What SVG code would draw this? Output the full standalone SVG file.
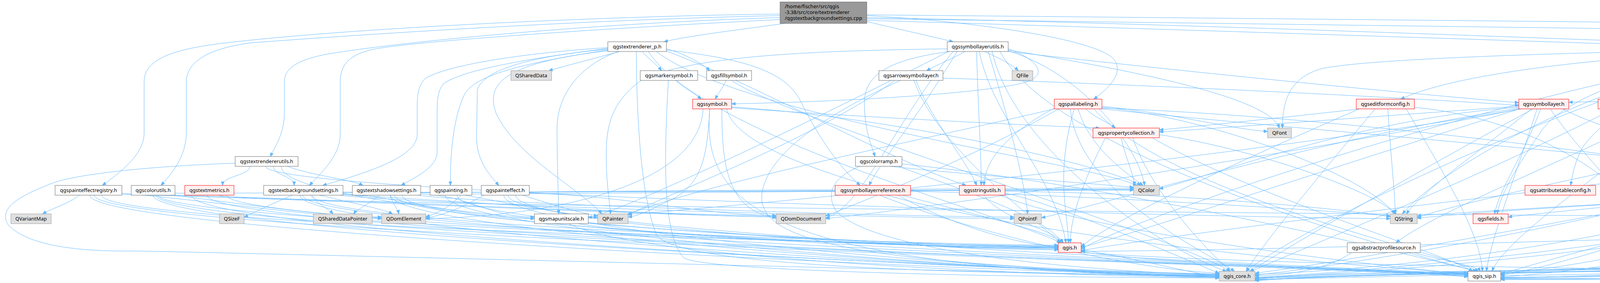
<svg xmlns="http://www.w3.org/2000/svg" width="7191" height="725" viewBox="0 0 7191 725">
<style>
.e path{fill:none;stroke:#63b8ff;stroke-width:1;marker-end:url(#a)}
.w{fill:#ffffff;stroke:#666666}
.r{fill:#fff0f0;stroke:#ff0000}
.g{fill:#e0e0e0;stroke:#999999}
.rt{fill:#999999;stroke:#666666}
text{font-family:"Noto Sans","DejaVu Sans",sans-serif;font-size:13px;fill:#000000}
.c{text-anchor:middle}
</style>
<defs>
<marker id="a" viewBox="0 0 10 8" refX="10" refY="4" markerWidth="10" markerHeight="8" markerUnits="userSpaceOnUse" orient="auto"><path d="M0,0L10,4L0,8z" fill="#63b8ff" stroke="#63b8ff"/></marker>
</defs>
<rect width="7191" height="725" fill="#ffffff"/>
<g id="edges" class="e">
<path d="M1997,36 C1600,40 900,70 560,112 C420,130 369,160 369,210 L369,340 C369,395 310,440 262,475"/>
<path d="M1997,40 C1500,50 900,90 640,110 C530,125 477,160 477,210 L477,340 C477,400 440,445 412,475"/>
<path d="M1997,45 C1500,60 1000,110 830,140 C760,155 728,175 728,210 L728,290 C728,340 705,375 692,401"/>
<path d="M1997,50 C1500,75 1000,110 940,130 C890,145 871,170 871,210 L871,345 C871,400 820,445 792,475"/>
<path d="M2010,60 C1900,75 1760,92 1700,107"/>
<path d="M2219,55 C2300,75 2380,92 2440,107"/>
<path d="M2219,40 C2500,55 2800,100 2850,150 C2880,185 2840,225 2800,254"/>
<path d="M2219,45 C3000,60 4000,100 4512,118"/>
<path d="M2219,38 C3500,50 5500,70 6000,79 C6300,85 6420,95 6460,110 C6510,135 6517,160 6517,200 L6517,300 C6517,340 6530,370 6543,401"/>
<path d="M2219,48 C3500,65 5000,85 5400,90 C5800,110 6200,160 6300,190 C6400,220 6420,250 6410,280 C6390,340 6300,420 6262,548"/>
<path d="M2219,52 C3500,90 5600,160 6150,187"/>
<path d="M1586,132 C1520,150 1450,168 1405,181"/>
<path d="M1644,132 C1660,150 1680,165 1694,181"/>
<path d="M1706,125 C1760,140 1800,165 1817,181"/>
<path d="M1706,128 C1900,150 2010,180 2050,260 C2090,340 2140,420 2202,475"/>
<path d="M1556,126 C1400,140 1240,170 1222,230 L1220,350 C1220,410 1250,445 1277,475"/>
<path d="M1556,122 C1350,135 1150,165 1090,200 C1068,220 1068,250 1068,280 L1068,345 C1068,400 950,440 826,475"/>
<path d="M1556,124 C1350,150 1180,180 1135,215 C1119,235 1119,260 1119,300 L1119,390 C1119,430 1060,455 1027,475"/>
<path d="M1556,128 C1350,160 1220,190 1190,240 C1160,300 1152,400 1153,475"/>
<path d="M1583,132 C1500,160 1426,230 1426,330 C1426,430 1430,500 1430,548"/>
<path d="M1556,130 C1300,160 1240,210 1270,290 C1320,400 1480,480 1541,548"/>
<path d="M1629,132 C1630,300 1640,500 1680,600 C1720,690 2600,703 3121,705"/>
<path d="M1706,131 C1900,200 2300,420 2473,475"/>
<path d="M1680,132 C1900,300 2800,420 2910,475"/>
<path d="M1660,132 C1800,350 2600,560 2715,622"/>
<path d="M2581,125 C2650,150 2680,185 2640,205 C2580,235 2200,260 1873,266"/>
<path d="M2425,125 C2100,130 1800,140 1650,200 C1560,260 1552,330 1552,400 C1552,470 1560,510 1563,548"/>
<path d="M2470,132 C2440,150 2400,165 2372,181"/>
<path d="M2520,132 C2560,150 2590,165 2607,181"/>
<path d="M2430,132 C2300,150 2215,180 2213,260 C2212,330 2230,370 2240,401"/>
<path d="M2507,132 C2540,300 2700,450 2729,622"/>
<path d="M2581,130 C2800,200 2920,400 2930,475"/>
<path d="M2581,128 C2900,180 3250,250 3275,328"/>
<path d="M2440,132 C2300,300 2200,540 2114,558"/>
<path d="M2540,132 C2600,400 3000,650 3140,695"/>
<path d="M2560,132 C2700,400 3600,650 3780,695"/>
<path d="M2428,132 C2100,300 1600,540 1506,558"/>
<path d="M2530,132 C2580,300 2620,450 2631,548"/>
<path d="M2581,132 C3000,180 3600,240 3888,263"/>
<path d="M2450,132 C2350,300 2250,420 2225,475"/>
<path d="M2500,132 C2505,300 2512,400 2512,475"/>
<path d="M2780,279 C2800,300 2840,315 2855,328"/>
<path d="M2699,277 C2600,330 2520,400 2519,475"/>
<path d="M2760,279 C2790,380 2880,440 2926,475"/>
<path d="M2750,279 C2700,450 2735,550 2735,622"/>
<path d="M2740,279 C2760,500 3100,650 3160,695"/>
<path d="M2821,275 C3100,300 3500,450 3570,548"/>
<path d="M2800,279 C3000,500 3700,650 3785,695"/>
<path d="M2821,272 C3000,290 3150,330 3245,337"/>
<path d="M2821,279 C3500,350 5200,480 5275,548"/>
<path d="M2821,277 C3500,300 4400,430 4667,482"/>
<path d="M2699,279 C2400,350 1800,470 1606,550"/>
<path d="M2710,279 C2500,400 2200,520 2114,553"/>
<path d="M2870,353 C2880,400 2900,440 2905,475"/>
<path d="M2900,353 C2950,500 3100,650 3150,695"/>
<path d="M2950,353 C3200,500 3700,650 3770,695"/>
<path d="M2830,353 C2780,450 2740,550 2740,622"/>
<path d="M2968,345 C3200,380 3500,480 3575,548"/>
<path d="M1873,276 C2200,300 2650,322 2815,328"/>
<path d="M3888,272 C3500,300 3100,330 2968,338"/>
<path d="M3480,279 C3300,300 3050,325 2968,333"/>
<path d="M2519,500 C2560,560 2700,590 2722,622"/>
<path d="M2573,495 C2700,520 3000,650 3121,700"/>
<path d="M2573,490 C3000,495 3400,530 3559,555"/>
<path d="M2560,500 C2800,600 3600,690 3758,702"/>
<path d="M2768,640 C2900,660 3050,700 3121,709"/>
<path d="M2768,645 C3000,680 3600,690 3758,709"/>
<path d="M2768,647 C3500,700 6000,705 6464,704"/>
<path d="M3520,279 C3420,400 3250,600 3190,695"/>
<path d="M3480,279 C3200,400 2850,560 2768,632"/>
<path d="M3553,279 C3560,400 3570,480 3572,548"/>
<path d="M3600,279 C3700,450 3790,600 3795,695"/>
<path d="M3621,275 C3900,300 4150,450 4180,548"/>
<path d="M3460,647 C3400,690 3300,705 3213,707"/>
<path d="M3620,647 C3700,670 3780,680 3790,695"/>
<path d="M3944,279 C3900,400 3840,480 3826,548"/>
<path d="M3969,279 C4050,400 4150,480 4174,548"/>
<path d="M4000,279 C4200,380 4650,450 4690,548"/>
<path d="M3925,279 C3700,400 3350,600 3200,695"/>
<path d="M3935,279 C3880,450 3820,600 3805,695"/>
<path d="M3888,275 C3500,300 3100,450 2968,484"/>
<path d="M3920,279 C3800,380 3650,480 3600,548"/>
<path d="M3890,279 C3500,400 2900,600 2768,634"/>
<path d="M3890,277 C3400,350 2800,530 2666,558"/>
<path d="M3890,279 C3300,400 2400,530 2114,560"/>
<path d="M3895,279 C3200,400 2000,520 1608,549"/>
<path d="M2414,200 C3000,220 3600,250 3888,270"/>
<path d="M2290,206 C2100,350 1700,500 1606,552"/>
<path d="M2345,206 C2380,300 2480,420 2500,475"/>
<path d="M6150,200 C5500,230 4500,250 4016,262"/>
<path d="M4237,275 C4700,290 5100,320 5366,333"/>
<path d="M4130,279 C3800,450 3300,650 3200,697"/>
<path d="M4512,130 C4300,180 4100,300 4050,380 C4030,420 4025,450 4021,475"/>
<path d="M4515,132 C4300,180 4200,220 4178,254"/>
<path d="M4512,125 C4000,135 3500,150 3383,176 C3300,200 3283,260 3283,328"/>
<path d="M4560,132 C4530,150 4500,168 4477,181"/>
<path d="M4575,132 C4590,220 4610,280 4619,328"/>
<path d="M4552,132 C4490,180 4460,260 4470,320 C4480,360 4520,385 4550,401"/>
<path d="M4540,132 C4420,160 4380,190 4390,230 C4450,400 4600,480 4671,548"/>
<path d="M4512,128 C4000,150 3700,200 3586,254"/>
<path d="M4512,130 C4200,170 4000,260 3950,330 C3880,430 3840,500 3833,548"/>
<path d="M4512,132 C4100,200 3700,420 3590,548"/>
<path d="M4525,132 C4350,160 4280,200 4270,240 C4240,350 4230,450 4204,548"/>
<path d="M4512,132 C4000,250 3300,600 3190,695"/>
<path d="M4520,132 C4300,300 3850,600 3820,695"/>
<path d="M4512,130 C3800,250 2900,560 2768,638"/>
<path d="M4530,132 C4300,300 3700,520 3574,622"/>
<path d="M4635,128 C5500,160 6050,300 5985,475"/>
<path d="M4635,130 C5000,150 5200,180 5367,192"/>
<path d="M4635,132 C5200,160 5600,200 5677,254"/>
<path d="M4635,127 C5400,140 5880,200 5888,330 C5890,420 5880,500 5878,548"/>
<path d="M4600,132 C4700,200 4800,255 4905,266"/>
<path d="M4620,132 C4700,200 4790,300 4815,328"/>
<path d="M4635,132 C4800,170 5000,260 5068,328"/>
<path d="M4600,132 C4800,300 5100,450 5183,548"/>
<path d="M4620,132 C4900,300 5200,450 5275,548"/>
<path d="M4628,353 C4629,370 4630,385 4630,401"/>
<path d="M4850,353 C4800,370 4750,390 4715,410"/>
<path d="M4645,426 C4660,450 4690,460 4697,475"/>
<path d="M4625,426 C4500,550 3800,680 3213,703"/>
<path d="M4600,426 C4400,560 4000,680 3842,705"/>
<path d="M4715,420 C4900,440 5170,500 5200,548"/>
<path d="M4546,415 C4400,450 4300,540 4220,556"/>
<path d="M4546,420 C4000,480 3000,600 2768,642"/>
<path d="M4713,500 C4710,520 4703,535 4701,548"/>
<path d="M4700,500 C4500,600 3600,690 3213,711"/>
<path d="M4680,500 C4400,620 4000,690 3842,700"/>
<path d="M4667,495 C4300,510 3800,540 3628,553"/>
<path d="M4667,490 C4400,500 4000,540 3861,556"/>
<path d="M5446,206 C5444,250 5442,290 5442,328"/>
<path d="M5420,206 C5400,240 5395,280 5427,328"/>
<path d="M5492,206 C5560,225 5620,240 5651,254"/>
<path d="M5390,206 C5200,300 4900,400 4770,478"/>
<path d="M5470,206 C5500,400 4500,650 3213,712"/>
<path d="M5490,206 C5550,400 4500,660 3842,710"/>
<path d="M5380,206 C5200,350 4900,520 4721,556"/>
<path d="M5367,200 C5250,220 5120,240 5081,253"/>
<path d="M5068,279 C5200,300 5300,320 5366,340"/>
<path d="M4950,279 C4700,450 3700,650 3213,705"/>
<path d="M4910,279 C4400,380 3800,500 3628,557"/>
<path d="M5053,353 C4800,420 3600,650 3213,700"/>
<path d="M5080,353 C4800,450 4000,650 3842,703"/>
<path d="M5380,353 C5200,380 4900,430 4770,485"/>
<path d="M5400,353 C5350,430 5260,500 5228,548"/>
<path d="M5440,353 C5430,450 5380,530 5349,555"/>
<path d="M5444,353 C5460,500 5400,640 5000,675 C4500,690 3400,690 3213,714"/>
<path d="M5430,353 C5450,520 5300,650 4800,680 C4300,700 3900,706 3842,706"/>
<path d="M5366,345 C5000,400 4800,520 4721,550"/>
<path d="M5656,279 C5600,300 5530,315 5494,328"/>
<path d="M5697,279 C5680,400 5600,560 5400,630 C5000,690 3400,690 3213,716"/>
<path d="M5706,279 C5730,330 5725,500 5650,600 C5500,690 4200,705 3842,711"/>
<path d="M5990,500 C6010,560 6030,615 6077,628"/>
<path d="M6018,495 C6080,520 6110,580 6111,622"/>
<path d="M5930,500 C5800,650 4000,690 3213,713"/>
<path d="M6018,498 C6200,560 6420,640 6486,695"/>
<path d="M5846,573 C5700,640 4500,690 3213,716"/>
<path d="M5864,573 C5700,650 4400,700 3842,712"/>
<path d="M5917,573 C6100,620 6350,690 6464,708"/>
<path d="M6230,206 C6240,225 6260,240 6270,254"/>
<path d="M6245,206 C6280,225 6320,240 6342,254"/>
<path d="M6214,206 C6190,260 6180,300 6178,360 C6175,450 6100,520 5900,600 C5500,680 3600,690 3213,718"/>
<path d="M6220,206 C6210,300 6195,550 6165,640 C6100,690 4500,712 3842,716"/>
<path d="M6520,426 C6490,445 6440,460 6417,475"/>
<path d="M6591,426 C6630,440 6670,460 6690,475"/>
<path d="M6613,420 C6700,440 6780,470 6830,480"/>
<path d="M6613,418 C6750,440 6900,470 6955,480"/>
<path d="M6613,415 C6800,430 7000,465 7046,478"/>
<path d="M6613,413 C6900,420 7100,440 7150,480 C7200,530 7195,600 7100,640 C6950,690 6700,700 6539,705"/>
<path d="M6550,426 C6560,520 6530,620 6509,695"/>
<path d="M6543,426 C6450,550 6200,650 5800,670 C5000,690 3600,690 3213,718"/>
<path d="M6524,426 C6300,600 5000,700 3842,713"/>
<path d="M6491,420 C5900,430 5500,480 5349,552"/>
<path d="M6491,423 C5500,450 4000,520 3628,559"/>
<path d="M6375,500 C6300,600 6100,660 5800,680 C5000,690 3600,690 3213,719"/>
<path d="M6381,500 C6385,600 6300,660 6000,680 C5000,710 4200,714 3842,714"/>
<path d="M6230,573 C6200,590 6170,615 6149,628"/>
<path d="M6251,573 C6230,640 6100,670 5800,685 C5000,690 3600,690 3213,719"/>
<path d="M6260,573 C6280,640 6200,690 5900,700 C5000,715 4200,716 3842,716"/>
<path d="M6197,565 C5000,580 3500,640 2768,644"/>
<path d="M2252,500 C2500,600 2900,690 3121,700"/>
<path d="M2270,500 C2700,620 3500,685 3758,700"/>
<path d="M2331,490 C2800,500 3400,540 3559,553"/>
<path d="M2300,500 C2400,560 2600,630 2709,631"/>
<path d="M2202,426 C2140,450 2110,490 2140,540 C2250,660 2900,700 3121,704"/>
<path d="M2278,426 C2500,450 2800,470 2902,480"/>
<path d="M2300,426 C2500,500 2680,560 2720,622"/>
<path d="M2309,420 C2900,480 3600,650 3780,695"/>
<path d="M2305,206 C2100,300 1960,400 1950,500 C1945,600 2100,680 3121,702"/>
<path d="M2340,206 C2400,380 2650,560 2715,622"/>
<path d="M1456,573 C1600,650 2400,700 3121,712"/>
<path d="M1480,573 C1700,610 2409,635 2709,635"/>
<path d="M1730,206 C1750,225 1780,240 1795,254"/>
<path d="M1711,206 C1700,400 1695,600 1750,660 C1800,700 2800,712 3121,712"/>
<path d="M1859,206 C1850,225 1838,240 1831,254"/>
<path d="M1873,206 C2000,300 3000,600 3149,695"/>
<path d="M1848,279 C1848,420 1860,540 1987,558"/>
<path d="M1817,279 C1800,500 1900,690 3121,710"/>
<path d="M1873,274 C2300,300 2850,430 2920,475"/>
<path d="M1860,279 C1900,450 2650,560 2722,622"/>
<path d="M1817,279 C1810,400 1800,480 1700,520 C1660,540 1640,552 1608,556"/>
<path d="M1800,279 C1790,480 1400,555 1090,560"/>
<path d="M640,426 C640,450 570,450 570,475"/>
<path d="M700,426 C700,450 753,450 753,475"/>
<path d="M735,426 C800,450 900,460 929,475"/>
<path d="M602,418 C400,425 180,445 120,475 C30,510 0,540 20,575 C70,630 200,645 350,643 C700,650 2500,695 3121,710"/>
<path d="M680,426 C680,500 3259,560 3559,560"/>
<path d="M720,426 C720,560 2409,633 2709,633"/>
<path d="M203,500 C180,520 130,535 109,548"/>
<path d="M230,500 C230,600 2821,707 3121,707"/>
<path d="M241,500 C241,600 3458,685 3758,706"/>
<path d="M312,495 C500,510 800,555 977,560"/>
<path d="M312,498 C800,510 1700,552 1987,556"/>
<path d="M260,500 C260,580 2409,630 2709,630"/>
<path d="M448,495 C1000,494 2602,487 2902,487"/>
<path d="M445,500 C600,520 850,556 977,556"/>
<path d="M445,500 C1000,515 1700,552 1987,552"/>
<path d="M392,500 C392,600 2821,702 3121,702"/>
<path d="M400,500 C400,600 3458,685 3758,703"/>
<path d="M405,500 C405,567 2409,634 2709,634"/>
<path d="M490,500 C490,600 2821,704 3121,704"/>
<path d="M530,500 C530,600 3458,685 3758,709"/>
<path d="M560,500 C560,530 4958,560 5258,560"/>
<path d="M580,500 C580,570 2409,636 2709,636"/>
<path d="M749,500 C700,520 660,540 625,556"/>
<path d="M795,500 C810,520 840,535 853,548"/>
<path d="M818,500 C900,520 980,535 1005,548"/>
<path d="M768,500 C768,600 2821,706 3121,706"/>
<path d="M775,500 C775,600 3458,685 3758,706"/>
<path d="M878,492 C1200,495 2600,485 2902,485"/>
<path d="M878,497 C1000,500 1200,560 1368,560"/>
<path d="M878,499 C1100,510 1700,555 1987,555"/>
<path d="M870,500 C1000,520 2300,560 2596,560"/>
<path d="M800,500 C800,580 2409,628 2709,628"/>
<path d="M971,500 C950,520 915,535 905,548"/>
<path d="M998,500 C1005,520 1018,535 1021,548"/>
<path d="M1000,500 C1000,600 2821,708 3121,708"/>
<path d="M1077,494 C1500,490 2600,482 2902,482"/>
<path d="M1077,497 C1200,500 1250,556 1368,556"/>
<path d="M1070,500 C1200,520 2300,556 2596,556"/>
<path d="M1010,500 C1010,600 3458,685 3758,704"/>
<path d="M1030,500 C1030,580 2409,638 2709,638"/>
<path d="M1180,500 C1150,530 1120,548 1090,555"/>
<path d="M1190,500 C1300,520 1450,550 1530,557"/>
<path d="M1140,500 C1140,600 2821,710 3121,710"/>
<path d="M1208,497 C1600,495 2600,486 2902,486"/>
<path d="M1170,500 C1170,580 2409,632 2709,632"/>
<path d="M1338,500 C1400,520 1480,545 1530,553"/>
<path d="M1240,500 C1200,520 1150,550 1090,558"/>
<path d="M1355,495 C1600,500 1800,552 1987,552"/>
<path d="M1290,500 C1290,600 2821,709 3121,709"/>
<path d="M1300,500 C1300,600 3458,685 3758,702"/>
<path d="M1320,500 C1320,580 2409,640 2709,640"/>
</g>
<g id="n_root"><rect class="rt" x="1997" y="5" width="222" height="55"/><text x="2009" y="21">/home/fischer/src/qgis</text><text x="2009" y="36">-3.38/src/core/textrenderer</text><text x="2009" y="51">/qgstextbackgroundsettings.cpp</text></g>
<g id="n_qgstextrenderer_p"><rect class="w" x="1556" y="107" width="150" height="25"/><text class="c" x="1631" y="124">qgstextrenderer_p.h</text></g>
<g id="n_qgssymbollayerutils"><rect class="w" x="2425" y="107" width="156" height="25"/><text class="c" x="2503" y="124">qgssymbollayerutils.h</text></g>
<g id="n_qgsvectorlayer"><rect class="w" x="4512" y="107" width="123" height="25"/><text class="c" x="4573.5" y="124">qgsvectorlayer.h</text></g>
<g id="n_QSharedData"><rect class="g" x="1308" y="181" width="104" height="25"/><text class="c" x="1360" y="198">QSharedData</text></g>
<g id="n_qgsmarkersymbol"><rect class="w" x="1639" y="181" width="147" height="25"/><text class="c" x="1712.5" y="198">qgsmarkersymbol.h</text></g>
<g id="n_qgsfillsymbol"><rect class="w" x="1809" y="181" width="115" height="25"/><text class="c" x="1866.5" y="198">qgsfillsymbol.h</text></g>
<g id="n_qgsarrowsymbollayer"><rect class="w" x="2250" y="181" width="164" height="25"/><text class="c" x="2332" y="198">qgsarrowsymbollayer.h</text></g>
<g id="n_QFile"><rect class="g" x="2591" y="181" width="53" height="25"/><text class="c" x="2617.5" y="198">QFile</text></g>
<g id="n_QMutex"><rect class="g" x="4414" y="181" width="71" height="25"/><text class="c" x="4449.5" y="198">QMutex</text></g>
<g id="n_qgsvectordataprovider"><rect class="r" x="5367" y="181" width="173" height="25"/><text class="c" x="5453.5" y="198">qgsvectordataprovider.h</text></g>
<g id="n_qgsfillsymbollayer"><rect class="w" x="6150" y="181" width="143" height="25"/><text class="c" x="6221.5" y="198">qgsfillsymbollayer.h</text></g>
<g id="n_qgssymbol"><rect class="r" x="1773" y="254" width="100" height="25"/><text class="c" x="1823" y="271">qgssymbol.h</text></g>
<g id="n_qgspallabeling"><rect class="r" x="2699" y="254" width="122" height="25"/><text class="c" x="2760" y="271">qgspallabeling.h</text></g>
<g id="n_qgseditformconfig"><rect class="r" x="3472" y="254" width="149" height="25"/><text class="c" x="3546.5" y="271">qgseditformconfig.h</text></g>
<g id="n_qgssymbollayer"><rect class="r" x="3888" y="254" width="128" height="25"/><text class="c" x="3952" y="271">qgssymbollayer.h</text></g>
<g id="n_qgsfeatureiterator"><rect class="r" x="4091" y="254" width="146" height="25"/><text class="c" x="4164" y="271">qgsfeatureiterator.h</text></g>
<g id="n_qgsaggregatecalculator"><rect class="r" x="4905" y="254" width="176" height="25"/><text class="c" x="4993" y="271">qgsaggregatecalculator.h</text></g>
<g id="n_qgsfeaturesource"><rect class="w" x="5627" y="254" width="143" height="25"/><text class="c" x="5698.5" y="271">qgsfeaturesource.h</text></g>
<g id="n_QPen"><rect class="g" x="6250" y="254" width="57" height="25"/><text class="c" x="6278.5" y="271">QPen</text></g>
<g id="n_QBrush"><rect class="g" x="6330" y="254" width="70" height="25"/><text class="c" x="6365" y="271">QBrush</text></g>
<g id="n_qgspropertycollection"><rect class="r" x="2798" y="328" width="170" height="25"/><text class="c" x="2883" y="345">qgspropertycollection.h</text></g>
<g id="n_QFont"><rect class="g" x="3245" y="328" width="61" height="25"/><text class="c" x="3275.5" y="345">QFont</text></g>
<g id="n_qgsexpressioncontextscopegenerator"><rect class="w" x="4496" y="328" width="264" height="25"/><text class="c" x="4628" y="345">qgsexpressioncontextscopegenerator.h</text></g>
<g id="n_qgsexpressioncontextgenerator"><rect class="w" x="4785" y="328" width="227" height="25"/><text class="c" x="4898.5" y="345">qgsexpressioncontextgenerator.h</text></g>
<g id="n_qgsvectorlayertoolscontext"><rect class="w" x="5037" y="328" width="203" height="25"/><text class="c" x="5138.5" y="345">qgsvectorlayertoolscontext.h</text></g>
<g id="n_qgsfeaturerequest"><rect class="r" x="5366" y="328" width="151" height="25"/><text class="c" x="5441.5" y="345">qgsfeaturerequest.h</text></g>
<g id="n_qgstextrendererutils"><rect class="w" x="602" y="401" width="161" height="25"/><text class="c" x="682.5" y="418">qgstextrendererutils.h</text></g>
<g id="n_qgscolorramp"><rect class="w" x="2190" y="401" width="119" height="25"/><text class="c" x="2249.5" y="418">qgscolorramp.h</text></g>
<g id="n_qgsexpressioncontext"><rect class="r" x="4546" y="401" width="169" height="25"/><text class="c" x="4630.5" y="418">qgsexpressioncontext.h</text></g>
<g id="n_qgsapplication"><rect class="w" x="6491" y="401" width="122" height="25"/><text class="c" x="6552" y="418">qgsapplication.h</text></g>
<g id="n_qgspainteffectregistry"><rect class="w" x="141" y="475" width="171" height="25"/><text class="c" x="226.5" y="492">qgspainteffectregistry.h</text></g>
<g id="n_qgscolorutils"><rect class="w" x="336" y="475" width="112" height="25"/><text class="c" x="392" y="492">qgscolorutils.h</text></g>
<g id="n_qgstextmetrics"><rect class="r" x="473" y="475" width="126" height="25"/><text class="c" x="536" y="492">qgstextmetrics.h</text></g>
<g id="n_qgstextbackgroundsettings"><rect class="w" x="675" y="475" width="203" height="25"/><text class="c" x="776.5" y="492">qgstextbackgroundsettings.h</text></g>
<g id="n_qgstextshadowsettings"><rect class="w" x="902" y="475" width="175" height="25"/><text class="c" x="989.5" y="492">qgstextshadowsettings.h</text></g>
<g id="n_qgspainting"><rect class="w" x="1101" y="475" width="107" height="25"/><text class="c" x="1154.5" y="492">qgspainting.h</text></g>
<g id="n_qgspainteffect"><rect class="w" x="1232" y="475" width="123" height="25"/><text class="c" x="1293.5" y="492">qgspainteffect.h</text></g>
<g id="n_qgssymbollayerreference"><rect class="r" x="2138" y="475" width="193" height="25"/><text class="c" x="2234.5" y="492">qgssymbollayerreference.h</text></g>
<g id="n_qgsstringutils"><rect class="r" x="2456" y="475" width="117" height="25"/><text class="c" x="2514.5" y="492">qgsstringutils.h</text></g>
<g id="n_QColor"><rect class="g" x="2902" y="475" width="66" height="25"/><text class="c" x="2935" y="492">QColor</text></g>
<g id="n_qgsattributetableconfig"><rect class="r" x="3904" y="475" width="181" height="25"/><text class="c" x="3994.5" y="492">qgsattributetableconfig.h</text></g>
<g id="n_qgsfeature"><rect class="r" x="4667" y="475" width="103" height="25"/><text class="c" x="4718.5" y="492">qgsfeature.h</text></g>
<g id="n_qgsmaplayer"><rect class="r" x="5907" y="475" width="111" height="25"/><text class="c" x="5962.5" y="492">qgsmaplayer.h</text></g>
<g id="n_qgstranslationcontext"><rect class="w" x="6297" y="475" width="166" height="25"/><text class="c" x="6380" y="492">qgstranslationcontext.h</text></g>
<g id="n_qgssettingsentryimpl"><rect class="r" x="6640" y="475" width="165" height="25"/><text class="c" x="6722.5" y="492">qgssettingsentryimpl.h</text></g>
<g id="n_QApplication"><rect class="g" x="6830" y="475" width="101" height="25"/><text class="c" x="6880.5" y="492">QApplication</text></g>
<g id="n_QEvent"><rect class="g" x="6955" y="475" width="67" height="25"/><text class="c" x="6988.5" y="492">QEvent</text></g>
<g id="n_qgsconfig"><rect class="g" x="7046" y="475" width="95" height="25"/><text class="c" x="7093.5" y="492">qgsconfig.h</text></g>
<g id="n_QVariantMap"><rect class="g" x="28" y="548" width="103" height="25"/><text class="c" x="79.5" y="565">QVariantMap</text></g>
<g id="n_QSizeF"><rect class="g" x="562" y="548" width="63" height="25"/><text class="c" x="593.5" y="565">QSizeF</text></g>
<g id="n_QSharedDataPointer"><rect class="g" x="802" y="548" width="151" height="25"/><text class="c" x="877.5" y="565">QSharedDataPointer</text></g>
<g id="n_QDomElement"><rect class="g" x="977" y="548" width="113" height="25"/><text class="c" x="1033.5" y="565">QDomElement</text></g>
<g id="n_qgsmapunitscale"><rect class="w" x="1368" y="548" width="138" height="25"/><text class="c" x="1437" y="565">qgsmapunitscale.h</text></g>
<g id="n_QPainter"><rect class="g" x="1530" y="548" width="78" height="25"/><text class="c" x="1569" y="565">QPainter</text></g>
<g id="n_QDomDocument"><rect class="g" x="1987" y="548" width="127" height="25"/><text class="c" x="2050.5" y="565">QDomDocument</text></g>
<g id="n_QPointF"><rect class="g" x="2596" y="548" width="70" height="25"/><text class="c" x="2631" y="565">QPointF</text></g>
<g id="n_QString"><rect class="g" x="3559" y="548" width="69" height="25"/><text class="c" x="3593.5" y="565">QString</text></g>
<g id="n_qgsfields"><rect class="r" x="3771" y="548" width="90" height="25"/><text class="c" x="3816" y="565">qgsfields.h</text></g>
<g id="n_QMap"><rect class="g" x="4161" y="548" width="59" height="25"/><text class="c" x="4190.5" y="565">QMap</text></g>
<g id="n_QList"><rect class="g" x="4667" y="548" width="54" height="25"/><text class="c" x="4694" y="565">QList</text></g>
<g id="n_QSet"><rect class="g" x="5182" y="548" width="52" height="25"/><text class="c" x="5208" y="565">QSet</text></g>
<g id="n_QStringList"><rect class="g" x="5258" y="548" width="91" height="25"/><text class="c" x="5303.5" y="565">QStringList</text></g>
<g id="n_qgsvectorsimplifymethod"><rect class="r" x="5778" y="548" width="193" height="25"/><text class="c" x="5874.5" y="565">qgsvectorsimplifymethod.h</text></g>
<g id="n_qgsunittypes"><rect class="w" x="6197" y="548" width="115" height="25"/><text class="c" x="6254.5" y="565">qgsunittypes.h</text></g>
<g id="n_qgis"><rect class="r" x="2709" y="622" width="59" height="25"/><text class="c" x="2738.5" y="639">qgis.h</text></g>
<g id="n_qgsabstractprofilesource"><rect class="w" x="3449" y="622" width="187" height="25"/><text class="c" x="3542.5" y="639">qgsabstractprofilesource.h</text></g>
<g id="n_QObject"><rect class="g" x="6077" y="622" width="72" height="25"/><text class="c" x="6113" y="639">QObject</text></g>
<g id="n_qgis_core"><rect class="g" x="3121" y="695" width="92" height="25"/><text class="c" x="3167" y="712">qgis_core.h</text></g>
<g id="n_qgis_sip"><rect class="w" x="3758" y="695" width="84" height="25"/><text class="c" x="3800" y="712">qgis_sip.h</text></g>
<g id="n_memory"><rect class="g" x="6464" y="695" width="75" height="25"/><text class="c" x="6501.5" y="712">memory</text></g>
</svg>
